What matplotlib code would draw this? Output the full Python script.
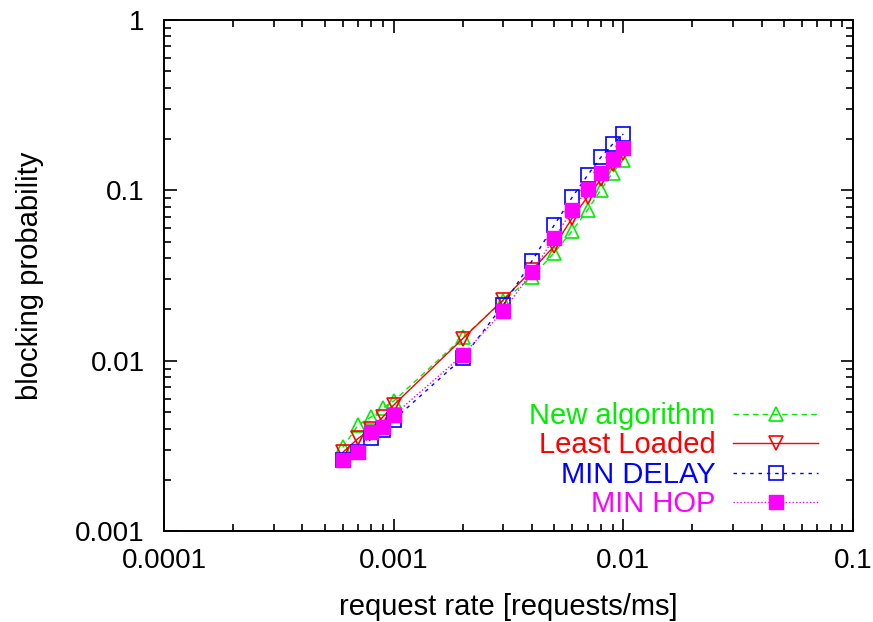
import matplotlib
matplotlib.use('Agg')
import matplotlib.pyplot as plt
from matplotlib.ticker import LogLocator, NullFormatter, FixedFormatter, FixedLocator

plt.rcParams['font.family'] = ['Liberation Sans', 'DejaVu Sans']

# request rates [requests/ms]
rate = [0.0006, 0.0007, 0.0008, 0.0009, 0.001, 0.002, 0.003, 0.004,
        0.005, 0.006, 0.007, 0.008, 0.009, 0.01]

# blocking probability per routing scheme
new_algorithm = [0.0031, 0.0042, 0.0047, 0.0053, 0.0058, 0.0137, 0.0225, 0.031,
                 0.043, 0.058, 0.077, 0.101, 0.127, 0.151]
least_loaded = [0.0029, 0.0035, 0.0040, 0.0047, 0.0055, 0.0135, 0.0228, 0.034,
                0.047, 0.069, 0.092, 0.116, 0.142, 0.165]
min_delay = [0.0026, 0.0029, 0.0035, 0.0039, 0.0045, 0.0104, 0.0212, 0.0385,
             0.0625, 0.0915, 0.123, 0.157, 0.187, 0.214]
min_hop = [0.0026, 0.0029, 0.0038, 0.0041, 0.0048, 0.0108, 0.0196, 0.0332,
           0.0525, 0.0767, 0.102, 0.126, 0.153, 0.177]

x_ticks = [0.0001, 0.001, 0.01, 0.1]
x_labels = ['0.0001', '0.001', '0.01', '0.1']
y_ticks = [0.001, 0.01, 0.1, 1]
y_labels = ['0.001', '0.01', '0.1', '1']

fig = plt.figure(figsize=(8.73, 6.22), dpi=100)
ax = fig.add_axes([0.188, 0.146, 0.789, 0.822])

ax.plot(rate, new_algorithm, color='#00ee00', linestyle=(0, (4, 3)), linewidth=1,
        marker='^', markersize=10, markerfacecolor='none', markeredgewidth=1.2,
        label='New algorithm')
ax.plot(rate, least_loaded, color='#ff0000', linestyle='-', linewidth=1,
        marker='v', markersize=10, markerfacecolor='none', markeredgewidth=1.2,
        label='Least Loaded')
ax.plot(rate, min_delay, color='#0000ff', linestyle=(0, (2.5, 3.5)), linewidth=1,
        marker='s', markersize=10, markerfacecolor='none', markeredgewidth=1.2,
        label='MIN DELAY')
ax.plot(rate, min_hop, color='#ff00ff', linestyle=(0, (1, 1.5)), linewidth=1,
        marker='s', markersize=10, markerfacecolor='#ff00ff', markeredgewidth=1,
        label='MIN HOP')

ax.set_xscale('log')
ax.set_yscale('log')
ax.set_xlim(0.0001, 0.1)
ax.set_ylim(0.001, 1)

ax.xaxis.set_major_locator(FixedLocator(x_ticks))
ax.xaxis.set_major_formatter(FixedFormatter(x_labels))
ax.yaxis.set_major_locator(FixedLocator(y_ticks))
ax.yaxis.set_major_formatter(FixedFormatter(y_labels))
for axis in (ax.xaxis, ax.yaxis):
    axis.set_minor_locator(LogLocator(base=10, subs=range(2, 10)))
    axis.set_minor_formatter(NullFormatter())

ax.tick_params(which='both', direction='in', top=True, right=True,
               labelsize=20, width=1.2)
ax.tick_params(axis='x', pad=12)
ax.tick_params(axis='y', pad=14)
ax.tick_params(which='major', length=9)
ax.tick_params(which='minor', length=5)
for s in ax.spines.values():
    s.set_linewidth(1.4)

ax.set_xlabel('request rate [requests/ms]', fontsize=21, labelpad=14)
ax.set_ylabel('blocking probability', fontsize=21, labelpad=22)

leg = ax.legend(loc='lower right', bbox_to_anchor=(0.949, 0.025), frameon=False,
                markerfirst=False, labelcolor='linecolor', fontsize=21,
                handlelength=2.9, handletextpad=0.6, labelspacing=0.05,
                borderaxespad=0, borderpad=0)
for t in leg.get_texts():
    t.set_horizontalalignment('right')

fig.savefig('out.png', dpi=100)
